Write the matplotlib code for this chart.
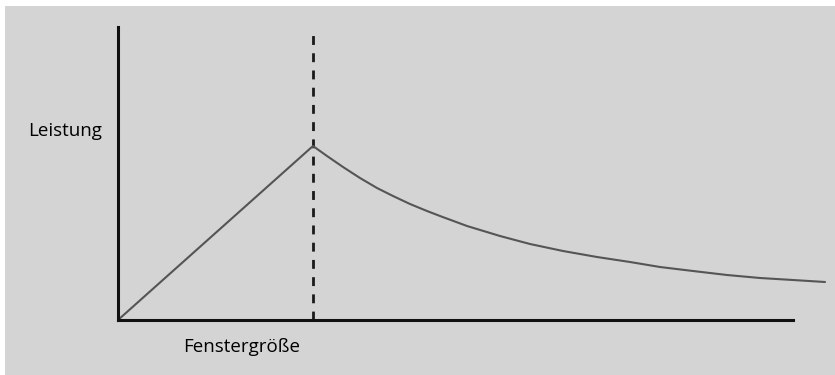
import matplotlib
matplotlib.use("Agg")
import matplotlib.pyplot as plt
from matplotlib.patches import Rectangle

# Data (arbitrary units: window size vs. performance)
window_size = [0, 195, 209, 225, 242, 259, 275, 292, 309, 322, 349, 382, 412, 445, 479, 512,
               542, 575, 609, 642, 675, 707]
performance = [0, 174, 164, 153, 142, 132, 124, 116, 109, 104, 94, 84, 76, 69, 63, 58,
               53, 49, 45, 42, 40, 38]
optimum_x = 195
x_label = "Fenstergröße"
y_label = "Leistung"

W, H = 835, 375
fig = plt.figure(figsize=(W / 100, H / 100), dpi=100, facecolor="white")
bg = "#d4d4d4"
fig.patches.append(Rectangle((5 / W, 0), 1 - 5 / W, 1 - 6 / H, transform=fig.transFigure,
                             facecolor=bg, edgecolor="none", zorder=-10))

ox, oy = 118, 320
ax = fig.add_axes([ox / W, (H - oy) / H, (W - ox) / W, oy / H])
ax.set_zorder(5)
ax.patch.set_visible(False)
ax.set_xlim(0, W - ox)
ax.set_ylim(0, oy)

ax.plot(window_size, performance, color="#555555", lw=1.5, solid_capstyle="round",
        solid_joinstyle="round", zorder=3, clip_on=False)
ax.plot([optimum_x, optimum_x], [0, 288], color="#1a1a1a", lw=2.0, dashes=(3.2, 3.0), zorder=2)

for s in ["top", "right"]:
    ax.spines[s].set_visible(False)
ax.spines["left"].set_bounds(0, 293)
ax.spines["bottom"].set_bounds(0, 675)
for s in ["left", "bottom"]:
    ax.spines[s].set_linewidth(2.2)
    ax.spines[s].set_color("#111111")
    ax.spines[s].set_zorder(4)
ax.set_xticks([])
ax.set_yticks([])

fig.text(28 / W, 1 - 131 / H, y_label, fontsize=13.5, family="Open Sans", color="#000000",
         ha="left", va="center", zorder=6)
fig.text(183 / W, 1 - 347 / H, x_label, fontsize=13.5, family="Open Sans", color="#000000",
         ha="left", va="center", zorder=6)

fig.savefig("out.png", dpi=100, facecolor="white")
